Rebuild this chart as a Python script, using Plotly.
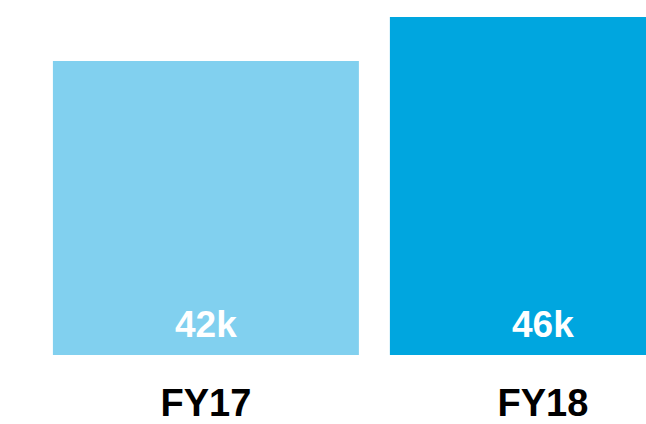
import plotly.graph_objects as go

# Fiscal-year totals (thousands)
years = ["FY17", "FY18"]
totals = [42, 46]
value_labels = ["42k", "46k"]
bar_colors = ["#81D0EF", "#00A6DF"]

y_floor = 15.27
y_ceiling = 46

fig = go.Figure(
    go.Bar(
        x=years,
        y=totals,
        marker=dict(color=bar_colors, line=dict(width=0)),
        hoverinfo="skip",
    )
)

# Value labels sit near the visible base of each bar
for yr, lab in zip(years, value_labels):
    fig.add_annotation(
        x=yr,
        y=y_floor,
        xref="x",
        yref="y",
        text=lab,
        showarrow=False,
        yanchor="middle",
        yshift=31,
        font=dict(family="Liberation Sans", size=37, color="white", weight="bold"),
    )

fig.update_layout(
    width=646,
    height=424,
    margin=dict(l=0, r=0, t=17, b=69),
    paper_bgcolor="white",
    plot_bgcolor="white",
    bargap=0.092,
    showlegend=False,
)
fig.update_xaxes(
    type="category",
    range=[-0.611, 1.306],
    automargin=False,
    showgrid=False,
    showline=False,
    zeroline=False,
    ticks="",
    ticklabelstandoff=22,
    tickfont=dict(family="Liberation Sans", size=38, color="black", weight="bold"),
)
fig.update_yaxes(
    range=[y_floor, y_ceiling],
    visible=False,
    showgrid=False,
    zeroline=False,
)

fig.write_html("out.html")
